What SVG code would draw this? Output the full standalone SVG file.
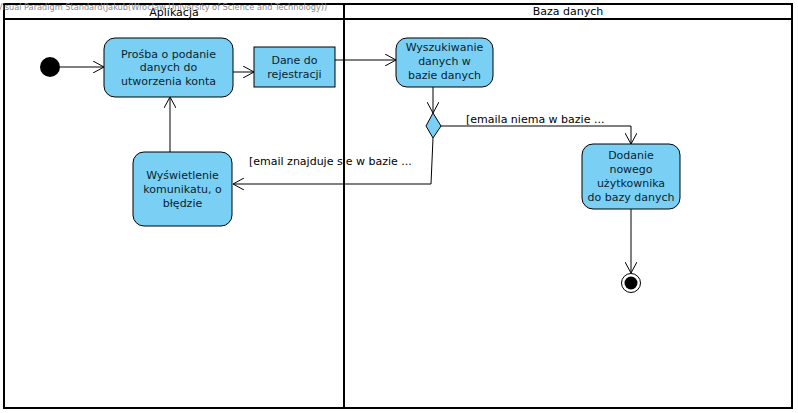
<svg xmlns="http://www.w3.org/2000/svg" width="798" height="413" viewBox="0 0 798 413">
<defs>
<style>
.lane{fill:none;stroke:#000;stroke-width:2}
.act{fill:#7acff5;stroke:#000;stroke-width:1}
.t{font-family:"DejaVu Sans",Verdana,sans-serif;font-size:11px;fill:#0a1f2e;text-anchor:middle}
.lbl{font-family:"DejaVu Sans",Verdana,sans-serif;font-size:11px;fill:#000}
.hdr{font-family:"DejaVu Sans",Verdana,sans-serif;font-size:11px;fill:#000;text-anchor:middle}
.wm{font-family:"DejaVu Sans",Verdana,sans-serif;font-size:8.2px;fill:#8a8a8a}
.c{fill:none;stroke:#000;stroke-width:1}
</style>
<marker id="arr" viewBox="0 0 12 12" refX="11" refY="6" markerWidth="12" markerHeight="12" markerUnits="userSpaceOnUse" orient="auto">
<path d="M0,0 L11,6 L0,12" fill="none" stroke="#000" stroke-width="1"/>
</marker>
</defs>
<rect x="0" y="0" width="798" height="413" fill="#fff"/>
<g id="lanes">
<rect class="lane" x="4" y="4" width="788" height="404"/>
<line class="lane" x1="4" y1="19" x2="792" y2="19"/>
<line class="lane" x1="344" y1="4" x2="344" y2="408"/>
<text class="hdr" x="174" y="16">Aplikacja</text>
<text class="hdr" x="568" y="15">Baza danych</text>
</g>
<text class="wm" x="-3" y="10">Visual Paradigm Standard(Jakub(Wroclaw University of Science and Technology))</text>
<g id="connectors">
<line class="c" x1="60" y1="67" x2="104" y2="67" marker-end="url(#arr)"/>
<line class="c" x1="233" y1="72" x2="254" y2="72" marker-end="url(#arr)"/>
<line class="c" x1="335" y1="60" x2="396" y2="60" marker-end="url(#arr)"/>
<line class="c" x1="433" y1="87" x2="433" y2="113" marker-end="url(#arr)"/>
<polyline class="c" points="441,126 631,126 631,144" marker-end="url(#arr)"/>
<polyline class="c" points="433,138 431,184 233,184" marker-end="url(#arr)"/>
<line class="c" x1="170" y1="152" x2="170" y2="97" marker-end="url(#arr)"/>
<line class="c" x1="631" y1="209" x2="631" y2="273" marker-end="url(#arr)"/>
<text class="lbl" x="466" y="123">[emaila niema w bazie ...</text>
<text class="lbl" x="249" y="165">[email znajduje sie w bazie ...</text>
</g>
<g id="start">
<circle cx="50" cy="67" r="10" fill="#000"/>
</g>
<g id="prosba">
<rect class="act" x="104" y="38" width="129" height="59" rx="11"/>
<text class="t" x="168.5" y="58">Prośba o podanie</text>
<text class="t" x="168.5" y="71">danych do</text>
<text class="t" x="168.5" y="85">utworzenia konta</text>
</g>
<g id="dane">
<rect class="act" x="254" y="47" width="81" height="40"/>
<text class="t" x="294.5" y="64">Dane do</text>
<text class="t" x="294.5" y="78">rejestracji</text>
</g>
<g id="wyszukiwanie">
<rect class="act" x="396" y="38" width="97" height="49" rx="11"/>
<text class="t" x="444.5" y="51">Wyszukiwanie</text>
<text class="t" x="444.5" y="65">danych w</text>
<text class="t" x="444.5" y="79">bazie danych</text>
</g>
<g id="decyzja">
<polygon class="act" points="433,113 441,126 433,138 426,126"/>
</g>
<g id="wyswietlenie">
<rect class="act" x="133" y="152" width="99" height="74" rx="11"/>
<text class="t" x="182.5" y="179">Wyświetlenie</text>
<text class="t" x="182.5" y="193">komunikatu, o</text>
<text class="t" x="182.5" y="207">błędzie</text>
</g>
<g id="dodanie">
<rect class="act" x="582" y="144" width="98" height="65" rx="11"/>
<text class="t" x="631" y="159">Dodanie</text>
<text class="t" x="631" y="173">nowego</text>
<text class="t" x="631" y="187">użytkownika</text>
<text class="t" x="631" y="201">do bazy danych</text>
</g>
<g id="koniec">
<circle cx="631" cy="283" r="9.5" fill="#fff" stroke="#000" stroke-width="1"/>
<circle cx="631" cy="283" r="6.5" fill="#000"/>
</g>
</svg>
